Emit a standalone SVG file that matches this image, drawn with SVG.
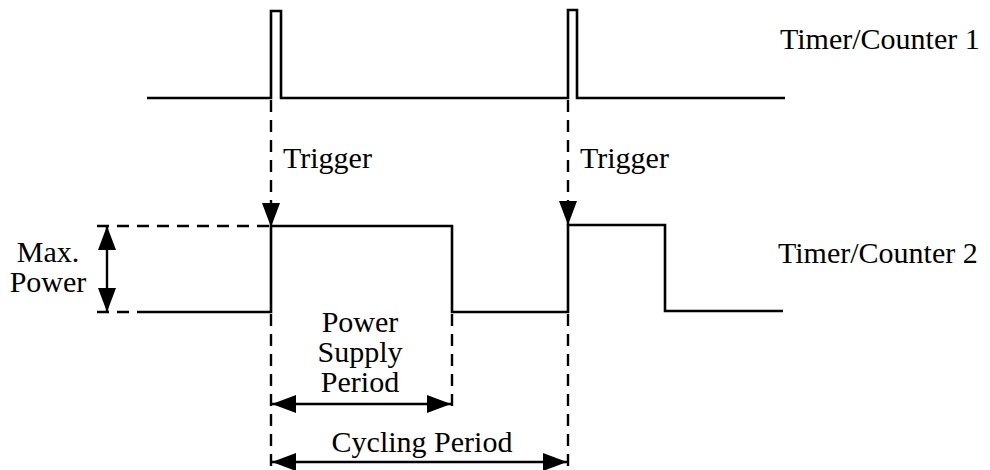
<svg xmlns="http://www.w3.org/2000/svg" width="990" height="470" viewBox="0 0 990 470">
<style>
.sig{fill:none;stroke:#000;stroke-width:2.6;stroke-linejoin:miter;stroke-linecap:butt}
.dash{fill:none;stroke:#000;stroke-width:2.4;stroke-dasharray:12 8}
.dim{fill:none;stroke:#000;stroke-width:2.4}
.t{font-family:'Liberation Serif','DejaVu Serif',serif;font-size:30px;fill:#000}
.c{text-anchor:middle}
</style>
<defs>
<marker id="ah" viewBox="0 0 24 18" refX="24" refY="9" markerWidth="24" markerHeight="18" markerUnits="userSpaceOnUse" orient="auto-start-reverse">
<path d="M0,0 L24,9 L0,18 Z" fill="#000"/>
</marker>
</defs>
<rect width="990" height="470" fill="#fff"/>
<g id="timer-counter-1">
<path class="sig" d="M147,98 H271 V11 H281 V98 H568 V10 H577 V98 H785"/>
<text class="t" x="780" y="49">Timer/Counter 1</text>
</g>
<g id="timer-counter-2">
<path class="sig" d="M143,312 H271 V226 H452 V312 H568 V225 H665 V311 H783"/>
<text class="t" x="778" y="263">Timer/Counter 2</text>
</g>
<g id="max-power">
<text class="t c" x="48" y="262">Max.</text>
<text class="t c" x="48" y="292">Power</text>
</g>
<g id="power-supply-period">
<text class="t c" x="360" y="332">Power</text>
<text class="t c" x="360" y="362">Supply</text>
<text class="t c" x="360" y="392">Period</text>
</g>
<g id="cycling-period">
<text class="t c" x="422" y="452">Cycling Period</text>
</g>
<g id="trigger-labels">
<text class="t" x="283" y="168">Trigger</text>
<text class="t" x="580" y="168">Trigger</text>
</g>
<g id="connectors">
<line class="dash" x1="271" y1="100" x2="271" y2="227" marker-end="url(#ah)"/>
<line class="dash" x1="568" y1="100" x2="568" y2="225" marker-end="url(#ah)"/>
<line class="dash" x1="97" y1="226" x2="271" y2="226"/>
<line class="dash" x1="97" y1="312" x2="143" y2="312"/>
<line class="dim" x1="107" y1="226" x2="107" y2="312" marker-start="url(#ah)" marker-end="url(#ah)"/>
<line class="dash" x1="271" y1="314" x2="271" y2="470"/>
<line class="dash" x1="452" y1="314" x2="452" y2="408"/>
<line class="dash" x1="568" y1="314" x2="568" y2="470"/>
<line class="dim" x1="272" y1="404" x2="451" y2="404" marker-start="url(#ah)" marker-end="url(#ah)"/>
<line class="dim" x1="272" y1="462" x2="567" y2="462" marker-start="url(#ah)" marker-end="url(#ah)"/>
</g>
</svg>
